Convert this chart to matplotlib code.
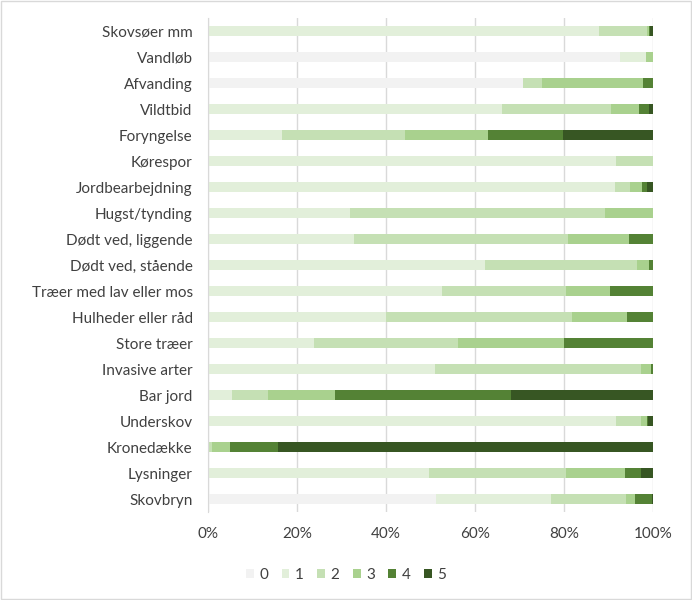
import matplotlib.pyplot as plt
import numpy as np

categories = ['Skovsøer mm', 'Vandløb', 'Afvanding', 'Vildtbid', 'Foryngelse', 'Kørespor',
              'Jordbearbejdning', 'Hugst/tynding', 'Dødt ved, liggende', 'Dødt ved, stående',
              'Træer med lav eller mos', 'Hulheder eller råd', 'Store træer', 'Invasive arter',
              'Bar jord', 'Underskov', 'Kronedække', 'Lysninger', 'Skovbryn']

# share (%) per score 0..5, same order as categories
score_0 = [0, 92.6, 70.7, 0, 0, 0, 0, 0, 0, 0, 0, 0, 0, 0, 0, 0, 0, 0, 51.2]
score_1 = [87.9, 5.8, 0, 66.1, 16.6, 91.7, 91.4, 31.9, 32.7, 62.2, 52.6, 39.9, 23.8, 51.0, 5.3, 91.7, 0, 49.7, 25.9]
score_2 = [10.7, 0, 4.4, 24.4, 27.7, 8.3, 3.4, 57.3, 48.3, 34.2, 27.8, 41.8, 32.3, 46.3, 8.1, 5.5, 0.8, 30.7, 16.8]
score_3 = [0.6, 1.6, 22.7, 6.4, 18.6, 0, 2.7, 10.8, 13.5, 2.8, 9.9, 12.4, 24.0, 2.3, 15.2, 1.4, 4.1, 13.2, 2.1]
score_4 = [0.2, 0, 2.2, 2.2, 16.9, 0, 1.2, 0, 5.5, 0.8, 9.7, 5.9, 19.9, 0.4, 39.4, 0.3, 10.8, 3.7, 3.7]
score_5 = [0.6, 0, 0, 0.9, 20.2, 0, 1.3, 0, 0, 0, 0, 0, 0, 0, 32.0, 1.1, 84.3, 2.7, 0.3]

score_labels = ['0', '1', '2', '3', '4', '5']
colors = ['#F2F2F2', '#E2EFDA', '#C5E0B4', '#A9D18E', '#548235', '#375623']

plt.rcParams['font.family'] = ['Lato', 'DejaVu Sans']

fig = plt.figure(figsize=(6.92, 6.0), dpi=100)
ax = fig.add_axes([208 / 692, 1 - 512 / 600, 445 / 692, 494 / 600])

y = np.arange(len(categories))
left = np.zeros(len(categories))
for label, vals, c in zip(score_labels, [score_0, score_1, score_2, score_3, score_4, score_5], colors):
    vals = np.array(vals)
    ax.barh(y, vals, left=left, height=0.4, color=c, label=label)
    left += vals

ax.set_xlim(0, 100)
ax.set_ylim(len(categories) - 0.5, -0.5)
ax.set_yticks(y)
ax.set_yticklabels(categories, fontsize=11, color='#404040')
ax.set_xticks(range(0, 101, 20))
ax.set_xticklabels(['%d%%' % v for v in range(0, 101, 20)], fontsize=11, color='#404040')
ax.tick_params(axis='y', length=0, pad=11)
ax.tick_params(axis='x', length=0, pad=11)
ax.grid(axis='x', color='#D9D9D9', linewidth=1)
ax.set_axisbelow(True)
for s in ['top', 'right', 'bottom']:
    ax.spines[s].set_visible(False)
ax.spines['left'].set_color('#D9D9D9')

handles, labels = ax.get_legend_handles_labels()
fig.legend(handles, labels, loc='center', bbox_to_anchor=(0.5, 1 - 575 / 600), ncol=6, frameon=False,
           fontsize=11, handlelength=0.5, handleheight=0.5, handletextpad=0.35,
           columnspacing=0.9, labelcolor='#404040')

fig.patches.append(plt.Rectangle((0.002, 0.002), 0.996, 0.996, transform=fig.transFigure,
                                 fill=False, edgecolor='#D9D9D9', linewidth=1))

fig.savefig('out.png', dpi=100)
